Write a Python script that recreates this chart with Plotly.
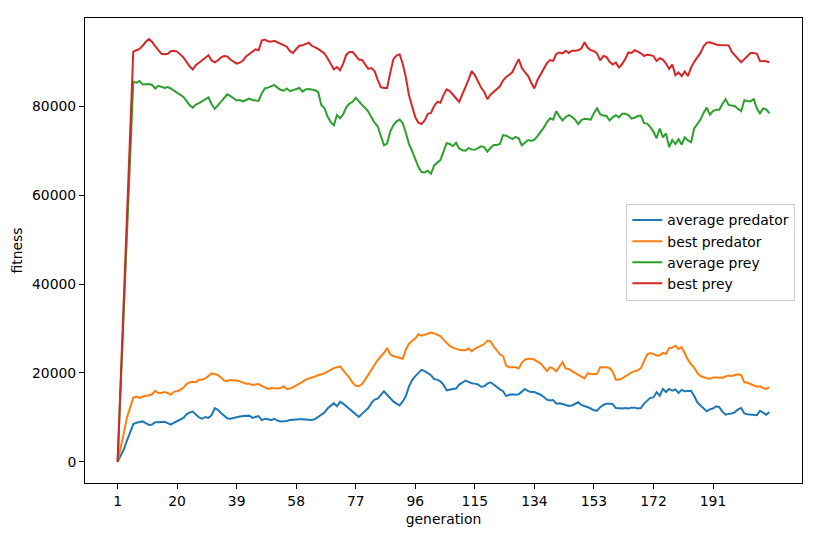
import plotly.graph_objects as go

generations = list(range(1, 210))

avg_predator = [
    0, 1400, 2800, 4800, 6800, 8500, 8800, 9000, 9100, 8700,
    8300, 8400, 8900, 8900, 8900, 9000, 8700, 8400, 8800, 9200,
    9600, 9900, 10700, 11100, 11300, 10600, 10000, 9700, 10100, 9900,
    10500, 12100, 11700, 11000, 10300, 9800, 9700, 9900, 10100, 10200,
    10300, 10400, 10400, 9900, 10100, 10300, 9400, 9700, 9600, 9400,
    9700, 9300, 9100, 9100, 9200, 9400, 9500, 9500, 9600, 9600,
    9500, 9500, 9400, 9600, 10100, 10600, 11100, 12000, 12700, 13200,
    12500, 13500, 13100, 12400, 11900, 11300, 10600, 10100, 10800, 11500,
    12100, 13200, 14000, 14200, 15000, 15900, 15100, 14300, 13600, 13100,
    12700, 13600, 14800, 17000, 18400, 19300, 20100, 20700, 20400, 20000,
    19500, 18600, 18500, 18100, 17300, 16100, 16300, 16400, 16500, 17400,
    17800, 18300, 18000, 17700, 17600, 17400, 16900, 17000, 17600, 17900,
    17400, 16800, 16300, 15900, 14800, 15100, 15200, 15100, 15200, 15800,
    16400, 15900, 15700, 15700, 15400, 15100, 14600, 14000, 13800, 13900,
    13100, 13200, 13000, 12800, 12600, 12700, 13000, 13400, 12800, 12600,
    12300, 12000, 11600, 11500, 12300, 12800, 13100, 13100, 13000, 12100,
    12000, 12000, 12100, 12000, 12200, 12200, 12000, 12100, 13100, 13700,
    14400, 14500, 15700, 14900, 16400, 15700, 16400, 16000, 16300, 15500,
    16200, 15900, 15900, 16000, 14800, 13400, 12700, 12000, 11400, 11800,
    12000, 12500, 12300, 11300, 10600, 10800, 10900, 11200, 11800, 12100,
    10900, 10700, 10600, 10500, 10500, 11500, 11000, 10600, 11200,
]

best_predator = [
    0, 3000, 6500, 10000, 12500, 14400, 14700, 14400, 14700, 14800,
    15000, 15200, 16000, 15500, 15500, 15700, 15500, 15100, 15800, 15900,
    16200, 16700, 17500, 17900, 18000, 17900, 18500, 18500, 18800, 19300,
    19900, 19800, 19500, 19000, 18300, 18200, 18400, 18300, 18300, 18100,
    17900, 17600, 17600, 17300, 17400, 17500, 17100, 16800, 16400, 16600,
    16500, 16500, 16600, 17000, 16400, 16500, 16800, 17200, 17500, 18000,
    18500, 18700, 19000, 19200, 19500, 19700, 19900, 20300, 20800, 21100,
    21300, 21500, 20600, 19800, 18900, 17800, 17100, 17000, 17500, 18500,
    19600, 20800, 22100, 22900, 23700, 24500, 25600, 24200, 23800, 23600,
    23400, 23200, 25300, 26600, 27200, 27800, 28700, 28400, 28600, 28800,
    29100, 28900, 28600, 28300, 27500, 26800, 26100, 25700, 25400, 25200,
    25100, 25100, 25500, 24900, 25400, 25800, 26200, 26500, 27300, 27100,
    26000, 25200, 24200, 23800, 21600, 21300, 21300, 21300, 21000, 22300,
    23000, 23200, 23200, 23000, 22500, 22100, 21300, 20400, 21300, 21000,
    20400, 21400, 22400, 21000, 20900, 20400, 20000, 19500, 19100, 18800,
    19900, 19800, 19700, 19800, 21300, 21300, 21300, 21100, 20300, 18500,
    18500, 18800, 19300, 19800, 20100, 20400, 20600, 21100, 22800, 24200,
    24500, 24300, 23900, 24000, 24500, 24300, 25600, 25700, 26100, 25400,
    25800, 24200, 23000, 22000, 21200, 20000, 19300, 19100, 18800, 18700,
    19000, 19000, 19000, 18900, 19200, 19400, 19300, 19500, 19700, 19500,
    17900, 17800, 17500, 17200, 16900, 17000, 16600, 16400, 16800,
]

avg_prey = [
    0, 17000, 34000, 51000, 68000, 85500, 85300, 85700, 84900, 85000,
    85000, 84800, 84000, 84600, 84300, 84100, 84300, 84000, 83500, 83000,
    82500, 82100, 81200, 80200, 79700, 80400, 80700, 81100, 81600, 82000,
    80500, 79400, 80200, 81000, 81800, 82700, 82300, 81800, 81300, 81400,
    81100, 81400, 81700, 81400, 81300, 81200, 82900, 84000, 84200, 84500,
    84800, 84200, 83700, 83500, 84000, 83400, 83600, 83900, 84100, 83300,
    83800, 83900, 83800, 83600, 83200, 80300, 79600, 77700, 76400, 75700,
    78000, 77300, 78200, 79800, 80600, 81000, 81900, 81000, 80300, 79600,
    78800, 77500, 76300, 75500, 73500, 71200, 71600, 74300, 75700, 76600,
    77000, 76200, 74000, 71500, 69900, 68000, 66300, 65200, 65100, 65500,
    64800, 66700, 67300, 67900, 69800, 71700, 71500, 71000, 71800, 70500,
    70100, 70000, 70600, 70300, 70200, 70700, 71000, 70800, 69800, 70600,
    71300, 71300, 71500, 73500, 73400, 73000, 72600, 73100, 72800, 71200,
    71700, 72400, 72200, 72500, 73300, 74200, 75200, 76400, 77300, 77000,
    78900, 77700, 76800, 77600, 78000, 77600, 77000, 76000, 76900, 77200,
    77100, 77000, 78500, 79500, 78200, 77900, 77800, 76800, 77500, 78000,
    77500, 78300, 78300, 78000, 77200, 77400, 77800, 77900, 76200, 76100,
    75300, 74300, 72800, 75000, 73000, 73900, 70800, 72400, 71500, 72600,
    71400, 73000, 72300, 71900, 75000, 76000, 77000, 78500, 79700, 78100,
    78900, 79200, 79200, 80500, 81600, 80300, 80200, 80000, 79400, 78900,
    81400, 81100, 81100, 81600, 79500, 78400, 79500, 79300, 78400,
]

best_prey = [
    0, 18000, 37000, 55000, 74000, 92300, 92600, 92900, 93600, 94500,
    95100, 94500, 93500, 92700, 91800, 91700, 91800, 92400, 92500, 92300,
    91600, 91000, 90000, 89000, 88300, 89300, 89800, 90400, 90900, 91500,
    90300, 89900, 90300, 91000, 91300, 91200, 90500, 90000, 89600, 89800,
    90300, 91200, 91700, 92200, 92800, 92600, 94800, 95000, 94600, 94500,
    94700, 94400, 94100, 93800, 93400, 92400, 92000, 92900, 93600, 93700,
    94000, 94300, 93600, 93300, 92900, 92400, 91900, 90800, 89400, 88300,
    88800, 88100, 89600, 91600, 92200, 92200, 91400, 90500, 90400, 89300,
    88400, 88600, 87900, 86000, 84300, 84100, 84100, 87500, 90600, 91400,
    91700, 89500, 86500, 82400, 80000, 77500, 76300, 76000, 76800, 78300,
    78500, 80000, 81000, 80800, 82500, 83800, 83400, 82500, 81800, 81000,
    82600, 84300, 86000, 87900, 87000, 85600, 84200, 83200, 81600, 82600,
    83300, 83900, 84500, 85800, 86600, 87100, 87700, 89200, 90600, 88600,
    87700, 86800, 85300, 84000, 85900, 87100, 88500, 89700, 90400, 90200,
    91800, 92100, 91900, 92500, 92000, 92500, 92500, 92600, 93000, 94400,
    93200, 92600, 92400, 91900, 90300, 91300, 91100, 90000, 89400, 89800,
    88700, 89500, 90600, 92100, 92000, 92600, 92300, 91900, 91300, 91600,
    91500, 91300, 90200, 90800, 90500, 89600, 88400, 89400, 87000, 87600,
    86800, 87800, 86800, 88700, 90000, 90900, 92000, 93500, 94300, 94400,
    94100, 93900, 93800, 93800, 93700, 93700, 92200, 91500, 90700, 89900,
    90600, 91400, 92000, 92000, 91800, 90200, 90200, 90100, 89900,
]

series_names = ["average predator", "best predator", "average prey", "best prey"]
series_values = [avg_predator, best_predator, avg_prey, best_prey]
series_colors = ["#1f77b4", "#ff7f0e", "#2ca02c", "#d62728"]

x_ticks = list(range(1, 210, 19))
y_ticks = [0, 20000, 40000, 60000, 80000]

fig = go.Figure()
for name, vals, col in zip(series_names, series_values, series_colors):
    fig.add_trace(go.Scatter(x=generations, y=vals, mode="lines", name=name,
                             line=dict(color=col, width=2)))

xspan = generations[-1] - generations[0]
allv = [v for s in series_values for v in s]
ymin, ymax = min(allv), max(allv)
yspan = ymax - ymin

font = dict(family="DejaVu Sans", size=13.9, color="black")

# the html page body has an 8px margin on every side, so the figure is
# sized 16px smaller than the window and its margins are reduced by 8px
fig.update_layout(
    width=805, height=519,
    margin=dict(l=77, r=11, t=10, b=44),
    paper_bgcolor="white", plot_bgcolor="white",
    font=font,
    showlegend=True,
    legend=dict(x=0.755, y=0.601, xanchor="left", yanchor="top",
                bgcolor="rgba(255,255,255,0.8)", bordercolor="#cccccc", borderwidth=1,
                font=font, tracegroupgap=0),
    xaxis=dict(range=[generations[0] - 0.05 * xspan, generations[-1] + 0.05 * xspan],
               tickmode="array", tickvals=x_ticks, ticktext=[str(t) for t in x_ticks],
               showgrid=False, zeroline=False, showline=True, linecolor="black", linewidth=1,
               mirror=True, ticks="outside", ticklen=5, tickwidth=1, tickcolor="black",
               tickfont=font,
               title=dict(text="generation", standoff=6, font=font), automargin=False),
    yaxis=dict(range=[ymin - 0.05 * yspan, ymax + 0.05 * yspan],
               tickmode="array", tickvals=y_ticks, ticktext=[str(t) for t in y_ticks],
               showgrid=False, zeroline=False, showline=True, linecolor="black", linewidth=1,
               mirror=True, ticks="outside", ticklen=5, tickwidth=1, tickcolor="black",
               tickfont=font,
               title=dict(text="fitness", standoff=6, font=font), automargin=False),
)

fig.write_html("out.html")
